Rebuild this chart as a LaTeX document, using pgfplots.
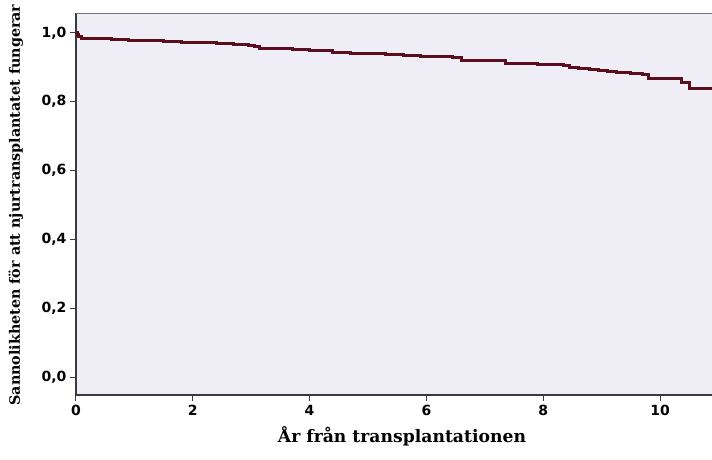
\documentclass[border=0pt]{standalone}
\usepackage{fontspec}
\setmainfont{DejaVu Serif}
\newfontfamily\tickfont{DejaVu Sans}
\usepackage{pgfplots}
\pgfplotsset{compat=1.18}
\definecolor{bgpanel}{HTML}{EFEEF6}
\definecolor{kmline}{HTML}{5A0E1E}
\definecolor{axisgray}{HTML}{3A3A3A}

\pgfplotstableread{
t     s
0     1.000
0.02  0.995
0.05  0.990
0.10  0.985
0.30  0.983
0.60  0.981
0.90  0.979
1.20  0.977
1.50  0.975
1.80  0.973
2.10  0.971
2.40  0.969
2.70  0.967
2.95  0.965
3.05  0.960
3.15  0.956
3.40  0.954
3.70  0.952
4.00  0.950
4.30  0.948
4.40  0.943
4.70  0.941
5.00  0.939
5.30  0.937
5.60  0.935
5.90  0.933
6.20  0.931
6.45  0.929
6.60  0.921
7.35  0.912
7.90  0.909
8.10  0.907
8.35  0.904
8.45  0.899
8.60  0.896
8.80  0.893
8.95  0.890
9.10  0.888
9.25  0.886
9.50  0.883
9.70  0.878
9.80  0.868
10.36 0.856
10.50 0.838
10.95 0.838
}\kmdata

\begin{document}
\begin{tikzpicture}
\useasboundingbox (0,0) rectangle (712pt,459pt);
\begin{axis}[
  at={(76pt,64pt)}, anchor=south west,
  scale only axis, width=636pt, height=382pt,
  xmin=0, xmax=10.89, ymin=-0.052, ymax=1.058,
  axis x line*=bottom, axis y line*=left,
  axis line style={axisgray, line width=1.3pt, -},
  axis background/.style={fill=bgpanel},
  xtick={0,2,...,10}, ytick={0,0.2,...,1.0},
  tick align=outside, major tick length=6pt,
  tick style={axisgray, line width=1pt},
  ticklabel style={font=\tickfont\bfseries\fontsize{14}{16}\selectfont},
  /pgf/number format/assume math mode=true,
  yticklabel style={/pgf/number format/.cd, fixed, fixed zerofill, precision=1, use comma},
  xticklabel style={yshift=-1pt},
  clip=true,
]
\draw[black!55, line width=1.3pt] (rel axis cs:0,1) -- (rel axis cs:1,1);
\addplot[const plot, kmline, line width=3pt] table[x=t, y=s] {\kmdata};
\end{axis}
\node[font=\bfseries\fontsize{17.2}{20}\selectfont, anchor=base] at (402pt,17pt) {År från transplantationen};
\node[font=\bfseries\fontsize{14.3}{17}\selectfont, anchor=base, rotate=90] at (20pt,254pt) {Sannolikheten för att njurtransplantatet fungerar};
\end{tikzpicture}
\end{document}
